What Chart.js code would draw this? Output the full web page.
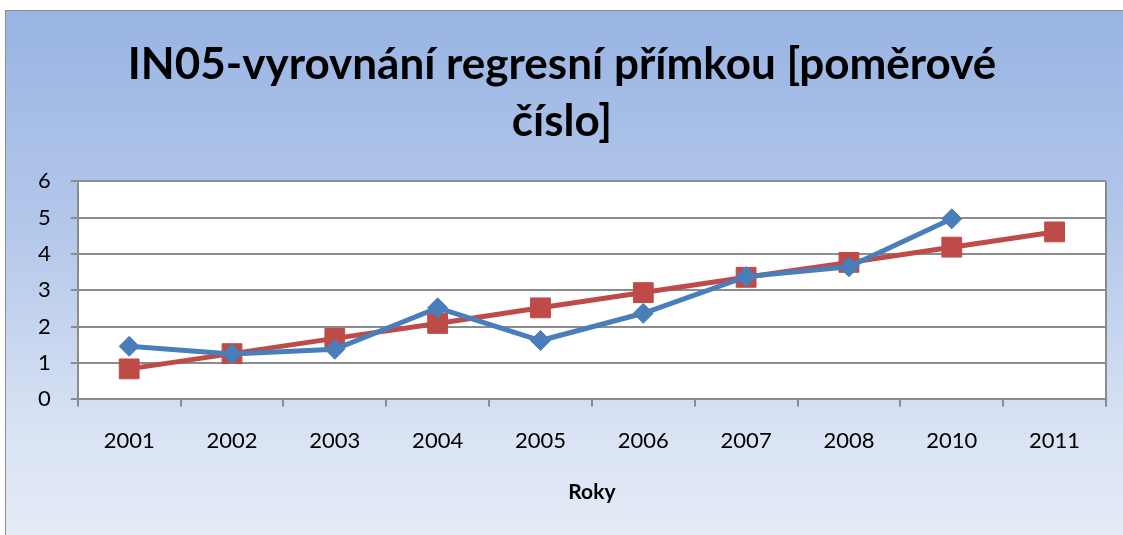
<!DOCTYPE html>
<html>
<head>
<meta charset="utf-8">
<script src="https://cdn.jsdelivr.net/npm/chart.js@4/dist/chart.umd.min.js"></script>
<style>
  body { margin: 0; background: #ffffff; overflow: hidden; }
  #frame {
    position: absolute; left: 5px; top: 10px; width: 1130px; height: 540px;
    border: 1px solid #8c8c8c;
    background: linear-gradient(to bottom, #99b4e3 0%, #b3c7ea 40%, #dbe4f4 80%, #e6ecf7 100%);
  }
  #wrap { position: absolute; left: 0; top: 0; width: 1117px; height: 524px; }
</style>
</head>
<body>
<div id="frame"><div id="wrap"><canvas id="chart"></canvas></div></div>
<script>
// Data
var years = ["2001", "2002", "2003", "2004", "2005", "2006", "2007", "2008", "2010", "2011"];
var actual = [1.46, 1.25, 1.38, 2.52, 1.62, 2.37, 3.38, 3.65, 4.97, null];
var trend = [0.84, 1.26, 1.68, 2.09, 2.52, 2.94, 3.36, 3.77, 4.19, 4.61];
var yTicks = [0, 1, 2, 3, 4, 5, 6];

var font = "Lato, 'Open Sans', sans-serif";

// white plot area + right border
var plotArea = {
  id: 'plotArea',
  beforeDraw: function(chart) {
    var a = chart.chartArea, ctx = chart.ctx;
    ctx.save();
    ctx.fillStyle = '#ffffff';
    ctx.fillRect(a.left, a.top, a.right - a.left, a.bottom - a.top);
    ctx.restore();
  },
  afterDatasetsDraw: function(chart) {
    var a = chart.chartArea, ctx = chart.ctx;
    ctx.save();
    ctx.strokeStyle = '#8c8c8c';
    ctx.lineWidth = 2;
    ctx.beginPath();
    ctx.moveTo(a.right, a.top);
    ctx.lineTo(a.right, a.bottom + 7);
    ctx.stroke();
    ctx.restore();
  }
};

new Chart(document.getElementById('chart'), {
  type: 'line',
  data: {
    labels: years,
    datasets: [
      {
        label: 'IN05',
        data: actual,
        borderColor: '#4a7ebb',
        backgroundColor: '#4a7ebb',
        borderWidth: 5,
        pointStyle: 'rectRot',
        pointRadius: 10,
        pointBorderWidth: 1,
        tension: 0
      },
      {
        label: 'Regresní přímka',
        data: trend,
        borderColor: '#be4b48',
        backgroundColor: '#be4b48',
        borderWidth: 5,
        pointStyle: 'rect',
        pointRadius: 14,
        pointBorderWidth: 1,
        tension: 0
      }
    ]
  },
  plugins: [plotArea],
  options: {
    responsive: true,
    maintainAspectRatio: false,
    animation: false,
    layout: { padding: { left: 12, right: 17, top: 25, bottom: 30 } },
    plugins: {
      legend: { display: false },
      tooltip: { enabled: false },
      title: {
        display: true,
        text: ['IN05-vyrovnání regresní přímkou [poměrové', 'číslo]'],
        color: '#000000',
        font: { family: font, size: 44, weight: 'bold', lineHeight: 1.3 },
        padding: { top: 0, bottom: 31 }
      }
    },
    scales: {
      x: {
        offset: true,
        grid: { offset: true, drawOnChartArea: false, drawTicks: true, tickLength: 7, color: '#8c8c8c', lineWidth: 2 },
        border: { display: true, color: '#8c8c8c', width: 2 },
        ticks: { color: '#000000', font: { family: font, size: 22 }, padding: 21, maxRotation: 0 },
        title: { display: true, text: 'Roky', color: '#000000', font: { family: font, size: 21, weight: 'bold' }, padding: { top: 5, bottom: 0 } }
      },
      y: {
        min: 0,
        max: 6,
        afterBuildTicks: function(axis) { axis.ticks = yTicks.map(function(v) { return { value: v }; }); },
        grid: { color: '#8c8c8c', lineWidth: 2, tickLength: 7 },
        border: { display: true, color: '#8c8c8c', width: 2 },
        ticks: { color: '#000000', font: { family: font, size: 22 }, padding: 20 }
      }
    }
  }
});
</script>
</body>
</html>
